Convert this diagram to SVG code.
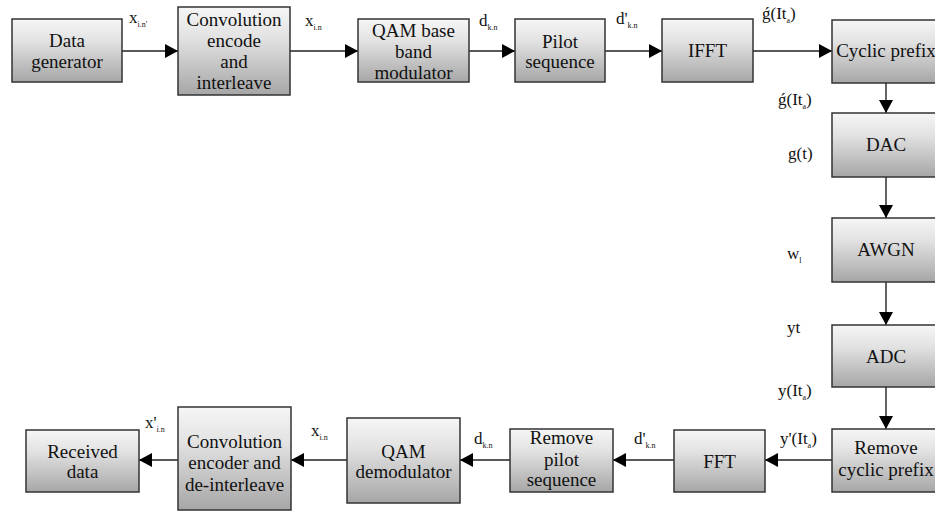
<svg xmlns="http://www.w3.org/2000/svg" width="935" height="512" viewBox="0 0 935 512">
<defs>
<linearGradient id="boxfill" x1="0" y1="0" x2="0" y2="1">
<stop offset="0" stop-color="#f6f6f6"/>
<stop offset="0.35" stop-color="#e2e2e2"/>
<stop offset="1" stop-color="#a6a6a6"/>
</linearGradient>
<marker id="ah" markerUnits="userSpaceOnUse" markerWidth="13" markerHeight="14" refX="13" refY="7" orient="auto">
<path d="M0,0 L13,7 L0,14 z" fill="#000"/>
</marker>
<style>
.blockrect{fill:url(#boxfill);stroke:#333;stroke-width:1.5}
text.nodetxt{font-family:'Liberation Serif',serif;font-size:19px;fill:#111;text-anchor:middle}
text.sigtxt{font-family:'Liberation Serif',serif;font-size:17px;fill:#111}
tspan.subtxt{font-size:8px}
.conn{stroke:#222;stroke-width:1.4;fill:none;marker-end:url(#ah)}
</style>
</defs>
<rect width="935" height="512" fill="#fff"/>
<g id="connectors">
<line class="conn" x1="122" y1="51" x2="178" y2="51"/>
<line class="conn" x1="290" y1="51" x2="358" y2="51"/>
<line class="conn" x1="469" y1="51" x2="515" y2="51"/>
<line class="conn" x1="605" y1="51" x2="662" y2="51"/>
<line class="conn" x1="753" y1="51" x2="832" y2="51"/>
<line class="conn" x1="886" y1="83" x2="886" y2="113"/>
<line class="conn" x1="886" y1="177" x2="886" y2="218"/>
<line class="conn" x1="886" y1="282" x2="886" y2="325"/>
<line class="conn" x1="886" y1="387" x2="886" y2="429"/>
<line class="conn" x1="832" y1="460" x2="765" y2="460"/>
<line class="conn" x1="674" y1="460" x2="613" y2="460"/>
<line class="conn" x1="510" y1="460" x2="460" y2="460"/>
<line class="conn" x1="347" y1="460" x2="291" y2="460"/>
<line class="conn" x1="178" y1="460" x2="139" y2="460"/>
</g>
<g id="labels">
<text class="sigtxt" x="129" y="23">x<tspan class="subtxt" dy="4">i.n'</tspan></text>
<text class="sigtxt" x="305" y="26">x<tspan class="subtxt" dy="4">i.n</tspan></text>
<text class="sigtxt" x="479" y="26">d<tspan class="subtxt" dy="4">k.n</tspan></text>
<text class="sigtxt" x="616" y="24">d'<tspan class="subtxt" dy="4">k.n</tspan></text>
<text class="sigtxt" x="762" y="19">ǵ(It<tspan class="subtxt" dy="4">a</tspan><tspan dy="-4">)</tspan></text>
<text class="sigtxt" x="778" y="105">ǵ(It<tspan class="subtxt" dy="4">a</tspan><tspan dy="-4">)</tspan></text>
<text class="sigtxt" x="788" y="159">g(t)</text>
<text class="sigtxt" x="787" y="259">w<tspan class="subtxt" dy="4">l</tspan></text>
<text class="sigtxt" x="787" y="333">yt</text>
<text class="sigtxt" x="778" y="396">y(It<tspan class="subtxt" dy="4">a</tspan><tspan dy="-4">)</tspan></text>
<text class="sigtxt" x="780" y="444">y'(It<tspan class="subtxt" dy="4">a</tspan><tspan dy="-4">)</tspan></text>
<text class="sigtxt" x="634" y="444">d'<tspan class="subtxt" dy="4">k.n</tspan></text>
<text class="sigtxt" x="474" y="444">d<tspan class="subtxt" dy="4">k.n</tspan></text>
<text class="sigtxt" x="311" y="436">x<tspan class="subtxt" dy="4">i.n</tspan></text>
<text class="sigtxt" x="145" y="428">x'<tspan class="subtxt" dy="4">i.n</tspan></text>
</g>
<g id="data-generator"><rect class="blockrect" x="12" y="19" width="110" height="63"/><text class="nodetxt" x="67" y="47">Data</text><text class="nodetxt" x="67" y="68">generator</text></g>
<g id="conv-encode"><rect class="blockrect" x="178" y="7" width="112" height="88"/><text class="nodetxt" x="234" y="26">Convolution</text><text class="nodetxt" x="234" y="47">encode</text><text class="nodetxt" x="234" y="68">and</text><text class="nodetxt" x="234" y="89">interleave</text></g>
<g id="qam-mod"><rect class="blockrect" x="358" y="19" width="111" height="63"/><text class="nodetxt" x="413.5" y="37">QAM base</text><text class="nodetxt" x="413.5" y="58">band</text><text class="nodetxt" x="413.5" y="79">modulator</text></g>
<g id="pilot"><rect class="blockrect" x="515" y="19" width="90" height="63"/><text class="nodetxt" x="560" y="48">Pilot</text><text class="nodetxt" x="560" y="68">sequence</text></g>
<g id="ifft"><rect class="blockrect" x="662" y="19" width="91" height="63"/><text class="nodetxt" x="707.5" y="57">IFFT</text></g>
<g id="cyclic-prefix"><rect class="blockrect" x="832" y="20" width="112" height="63"/><text class="nodetxt" x="886" y="57">Cyclic prefix</text></g>
<g id="dac"><rect class="blockrect" x="832" y="113" width="112" height="64"/><text class="nodetxt" x="886" y="151">DAC</text></g>
<g id="awgn"><rect class="blockrect" x="832" y="218" width="112" height="64"/><text class="nodetxt" x="886" y="256">AWGN</text></g>
<g id="adc"><rect class="blockrect" x="832" y="325" width="112" height="62"/><text class="nodetxt" x="886" y="363">ADC</text></g>
<g id="remove-cp"><rect class="blockrect" x="832" y="429" width="112" height="63"/><text class="nodetxt" x="886" y="454">Remove</text><text class="nodetxt" x="886" y="476">cyclic prefix</text></g>
<g id="fft"><rect class="blockrect" x="674" y="430" width="91" height="62"/><text class="nodetxt" x="719.5" y="468">FFT</text></g>
<g id="remove-pilot"><rect class="blockrect" x="510" y="429" width="103" height="63"/><text class="nodetxt" x="561.5" y="444">Remove</text><text class="nodetxt" x="561.5" y="466">pilot</text><text class="nodetxt" x="561.5" y="486">sequence</text></g>
<g id="qam-demod"><rect class="blockrect" x="347" y="418" width="113" height="85"/><text class="nodetxt" x="403.5" y="458">QAM</text><text class="nodetxt" x="403.5" y="478">demodulator</text></g>
<g id="conv-decode"><rect class="blockrect" x="178" y="407" width="113" height="103"/><text class="nodetxt" x="234.5" y="448">Convolution</text><text class="nodetxt" x="234.5" y="469">encoder and</text><text class="nodetxt" x="234.5" y="491">de-interleave</text></g>
<g id="received"><rect class="blockrect" x="26" y="430" width="113" height="62"/><text class="nodetxt" x="82.5" y="458">Received</text><text class="nodetxt" x="82.5" y="478">data</text></g>
</svg>
